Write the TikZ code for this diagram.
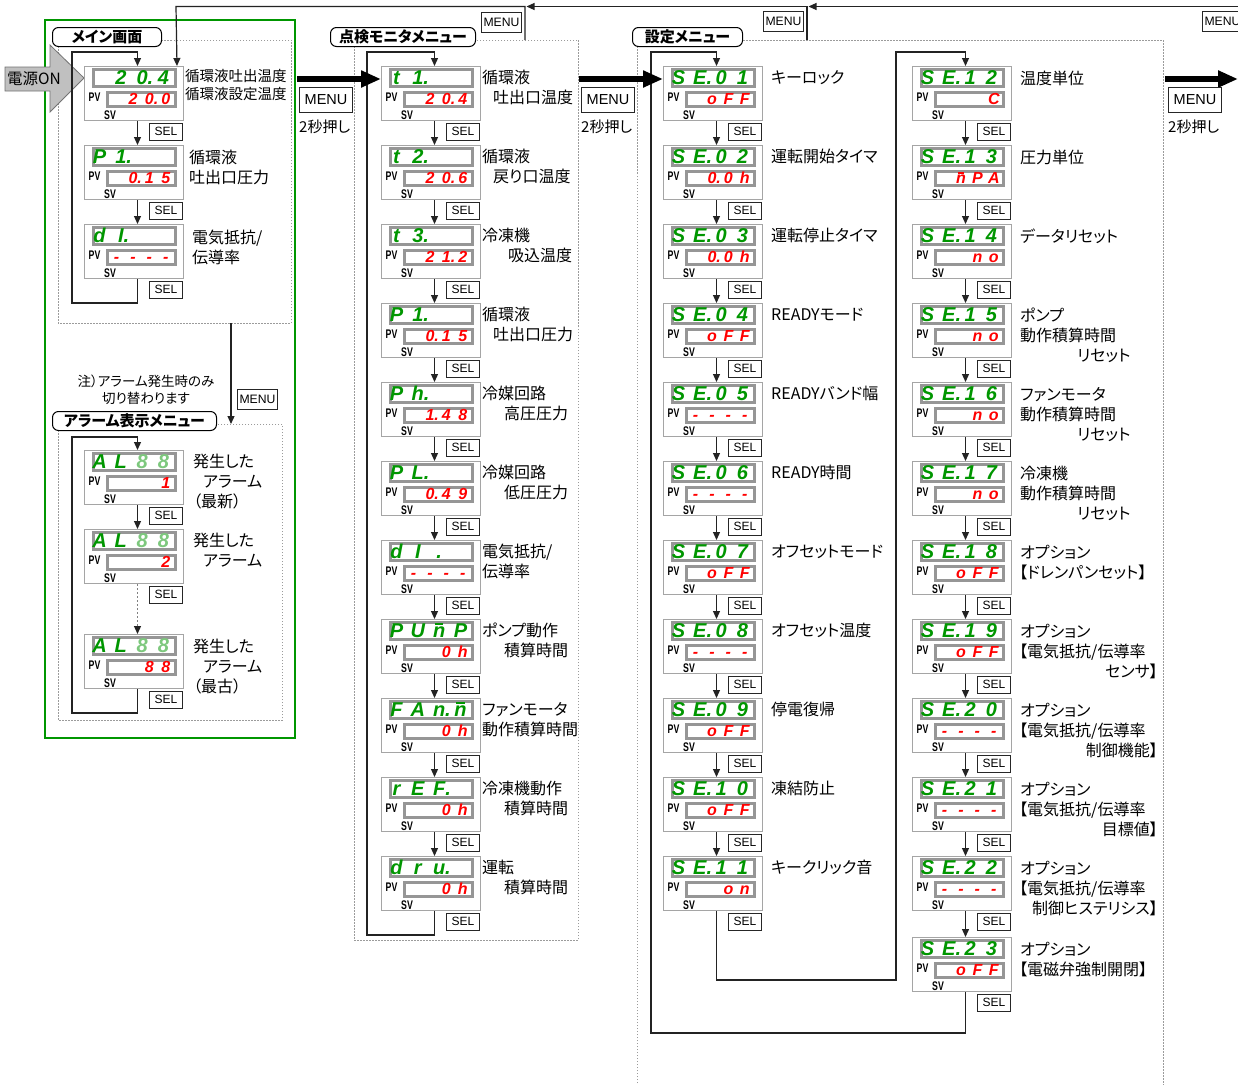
\documentclass[tikz,border=0pt]{standalone}
\usepackage{fontspec}
\usepackage{graphicx}
\setmainfont{Noto Sans CJK JP}[RawFeature=+palt]
\newfontfamily\arialf{Liberation Sans}
\newfontfamily\segf{Liberation Sans}
\newfontfamily\pvf{Liberation Sans}[FakeStretch=0.7]
\usetikzlibrary{arrows.meta}
\definecolor{sgreen}{RGB}{0,150,0}
\definecolor{sred}{RGB}{255,0,0}
\definecolor{hollowg}{RGB}{125,200,125}
\definecolor{fgray}{RGB}{150,150,150}
\definecolor{ogray}{RGB}{165,165,165}
\definecolor{dgray}{RGB}{155,155,155}
\definecolor{lnc}{RGB}{35,35,35}
\definecolor{pgray}{RGB}{192,192,192}
\definecolor{frgreen}{RGB}{0,150,0}

\newcommand\segU[4]{\makebox[21.3pt]{#1}\makebox[21.3pt]{#2}\makebox[21.3pt]{#3}\makebox[21.3pt]{#4}}
\newcommand\segL[4]{\makebox[16.4pt]{#1}\makebox[16.4pt]{#2}\makebox[16.4pt]{#3}\makebox[16.4pt]{#4}}
\newcommand\dpdot{\rlap{.}}
\newcommand\nbar{\ooalign{n\cr\hidewidth\raisebox{0.62em}{\rule{0.42em}{0.09em}}\hidewidth\cr}}
\newcommand\hseg[1]{\textcolor{hollowg}{#1}}

\tikzset{
 dispbox/.style={draw=ogray, line width=1pt, fill=white, minimum width=99pt, minimum height=54pt, inner sep=0pt},
 ufield/.style={draw=fgray, line width=2.6pt, minimum width=82.5pt, minimum height=17pt, inner sep=0pt},
 lfield/.style={draw=fgray, line width=2.6pt, minimum width=68.5pt, minimum height=14.5pt, inner sep=0pt},
 useg/.style={inner sep=0pt, text=sgreen, font=\segf\bfseries\itshape\fontsize{20}{20}\selectfont, text height=14.3pt, text depth=0pt},
 lseg/.style={inner sep=0pt, text=sred, font=\segf\bfseries\itshape\fontsize{16}{16}\selectfont, text height=11.5pt, text depth=0pt},
 pvs/.style={inner sep=0pt, font=\pvf\bfseries\fontsize{12.5}{12.5}\selectfont},
 selbox/.style={draw=black!85, line width=0.9pt, fill=white, minimum width=33pt, minimum height=16.5pt, inner sep=0pt, font=\arialf\fontsize{12}{12}\selectfont},
 bigmenu/.style={draw=black!85, line width=1.1pt, fill=white, minimum width=53pt, minimum height=25pt, inner sep=0pt, font=\arialf\fontsize{14.5}{14.5}\selectfont},
 smallmenu/.style={draw=black!85, line width=1pt, fill=white, minimum width=40pt, minimum height=20pt, inner sep=0pt, font=\arialf\fontsize{12.2}{12.2}\selectfont},
 lbl/.style={anchor=base west, inner sep=0pt, font=\fontsize{16}{20}\selectfont},
 lblsmall/.style={anchor=base west, inner sep=0pt, font=\fontsize{14.5}{18}\selectfont},
 conn/.style={draw=lnc, line width=1.2pt},
 arr/.style={conn, -{Triangle[length=8pt,width=7pt]}},
 bigarr/.style={draw=black, line width=6pt, -{Triangle[length=20pt,width=16pt]}},
 dotbox/.style={draw=dgray, line width=0.8pt, dash pattern=on 1.5pt off 1.5pt},
 titlebox/.style={draw=black, line width=1pt, rounded corners=6pt, fill=white, inner sep=0pt, minimum height=19pt, font=\bfseries\fontsize{15}{15}\selectfont, anchor=north west},
}

\newcounter{lbc}
\newcommand\lb[3]{\stepcounter{lbc}\node[lbl] (lb\arabic{lbc}) at (#1,#2+6) {#3};}
\newcommand\lbs[3]{\stepcounter{lbc}\node[lblsmall] (lb\arabic{lbc}) at (#1,#2+5.5) {#3};}
\newcommand\lbr[3]{\stepcounter{lbc}\node[lbl, anchor=base east] (lb\arabic{lbc}) at (#1,#2+6) {#3};}

\newcommand\disp[5]{%
 \node[dispbox, anchor=north west] (#1) at (#2,#3) {};
 \node[ufield] (#1u) at (#2+50.5,#3+12.25) {};
 \node[lfield] (#1l) at (#2+57.5,#3+33.5) {};
 \node[useg, anchor=east] (#1ut) at (#2+90.3,#3+11.3) {#4};
 \node[lseg, anchor=east] (#1lt) at (#2+90.2,#3+32.8) {#5};
 \node[pvs] (#1pv) at (#2+10.5,#3+31) {PV};
 \node[pvs] (#1sv) at (#2+26,#3+49) {SV};
 \node[selbox, anchor=north east] (#1sel) at (#2+99,#3+57) {SEL};
}

\begin{document}
\begin{tikzpicture}[x=1pt,y=-1pt]
\useasboundingbox[fill=white] (0,0) rectangle (1238,1084);

% frames
\draw[dotbox] (58,40) rectangle (291,323);
\draw[dotbox] (58,424) rectangle (282,720);
\draw[dotbox] (354,40) rectangle (578,940);
\draw[dotbox] (637,1095) -- (637,40) -- (1163,40) -- (1163,1095);
\draw[draw=frgreen, line width=2pt] (45,20) rectangle (295,738);

% titles
\node[titlebox, minimum width=109pt] (tmain) at (52,27) {メイン画面};
\node[titlebox, minimum width=145pt] (tchk) at (330,27) {点検モニタメニュー};
\node[titlebox, minimum width=110pt] (tset) at (632,27) {設定メニュー};
\node[titlebox, minimum width=164pt] (talm) at (52,411) {アラーム表示メニュー};

% power on arrow
\draw[fill=pgray, draw=black!55, line width=0.8pt] (5,67) -- (50,67) -- (50,45) -- (84,78) -- (50,112) -- (50,91) -- (5,91) -- cycle;
\node[anchor=west, inner sep=0pt, font=\fontsize{15.5}{15.5}\selectfont] (pwr) at (7,79) {電源ON};

% main screen displays
\disp{m1}{84}{66}{\segU{}{2}{0\dpdot}{4}}{\segL{}{2}{0\dpdot}{0}}
\disp{m2}{84}{145}{\segU{P}{1\dpdot}{}{}}{\segL{}{0\dpdot}{1}{5}}
\disp{m3}{84}{224}{\segU{d}{I\dpdot}{}{}}{\segL{-}{-}{-}{-}}

% alarm displays
\disp{a1}{84}{450}{\segU{A}{L}{\hseg{8}}{\hseg{8}}}{\segL{}{}{}{1}}
\disp{a2}{84}{529}{\segU{A}{L}{\hseg{8}}{\hseg{8}}}{\segL{}{}{}{2}}
\disp{a3}{84}{634}{\segU{A}{L}{\hseg{8}}{\hseg{8}}}{\segL{}{}{8}{8}}

% check monitor displays
\disp{p1}{381}{66}{\segU{t}{1\dpdot}{}{}}{\segL{}{2}{0\dpdot}{4}}
\disp{p2}{381}{145}{\segU{t}{2\dpdot}{}{}}{\segL{}{2}{0\dpdot}{6}}
\disp{p3}{381}{224}{\segU{t}{3\dpdot}{}{}}{\segL{}{2}{1\dpdot}{2}}
\disp{p4}{381}{303}{\segU{P}{1\dpdot}{}{}}{\segL{}{0\dpdot}{1}{5}}
\disp{p5}{381}{382}{\segU{P}{h\dpdot}{}{}}{\segL{}{1\dpdot}{4}{8}}
\disp{p6}{381}{461}{\segU{P}{L\dpdot}{}{}}{\segL{}{0\dpdot}{4}{9}}
\disp{p7}{381}{540}{\segU{d}{I}{.}{}}{\segL{-}{-}{-}{-}}
\disp{p8}{381}{619}{\segU{P}{U}{\nbar}{P}}{\segL{}{}{0}{h}}
\disp{p9}{381}{698}{\segU{F}{A}{n\dpdot}{\nbar}}{\segL{}{}{0}{h}}
\disp{p10}{381}{777}{\segU{r}{E}{F\dpdot}{}}{\segL{}{}{0}{h}}
\disp{p11}{381}{856}{\segU{d}{r}{u\dpdot}{}}{\segL{}{}{0}{h}}

% settings column 1
\disp{s1}{663}{66}{\segU{S}{E\dpdot}{0}{1}}{\segL{}{o}{F}{F}}
\disp{s2}{663}{145}{\segU{S}{E\dpdot}{0}{2}}{\segL{}{0\dpdot}{0}{h}}
\disp{s3}{663}{224}{\segU{S}{E\dpdot}{0}{3}}{\segL{}{0\dpdot}{0}{h}}
\disp{s4}{663}{303}{\segU{S}{E\dpdot}{0}{4}}{\segL{}{o}{F}{F}}
\disp{s5}{663}{382}{\segU{S}{E\dpdot}{0}{5}}{\segL{-}{-}{-}{-}}
\disp{s6}{663}{461}{\segU{S}{E\dpdot}{0}{6}}{\segL{-}{-}{-}{-}}
\disp{s7}{663}{540}{\segU{S}{E\dpdot}{0}{7}}{\segL{}{o}{F}{F}}
\disp{s8}{663}{619}{\segU{S}{E\dpdot}{0}{8}}{\segL{-}{-}{-}{-}}
\disp{s9}{663}{698}{\segU{S}{E\dpdot}{0}{9}}{\segL{}{o}{F}{F}}
\disp{s10}{663}{777}{\segU{S}{E\dpdot}{1}{0}}{\segL{}{o}{F}{F}}
\disp{s11}{663}{856}{\segU{S}{E\dpdot}{1}{1}}{\segL{}{}{o}{n}}

% settings column 2
\disp{s12}{912}{66}{\segU{S}{E\dpdot}{1}{2}}{\segL{}{}{}{C}}
\disp{s13}{912}{145}{\segU{S}{E\dpdot}{1}{3}}{\segL{}{\nbar}{P}{A}}
\disp{s14}{912}{224}{\segU{S}{E\dpdot}{1}{4}}{\segL{}{}{n}{o}}
\disp{s15}{912}{303}{\segU{S}{E\dpdot}{1}{5}}{\segL{}{}{n}{o}}
\disp{s16}{912}{382}{\segU{S}{E\dpdot}{1}{6}}{\segL{}{}{n}{o}}
\disp{s17}{912}{461}{\segU{S}{E\dpdot}{1}{7}}{\segL{}{}{n}{o}}
\disp{s18}{912}{540}{\segU{S}{E\dpdot}{1}{8}}{\segL{}{o}{F}{F}}
\disp{s19}{912}{619}{\segU{S}{E\dpdot}{1}{9}}{\segL{}{o}{F}{F}}
\disp{s20}{912}{698}{\segU{S}{E\dpdot}{2}{0}}{\segL{-}{-}{-}{-}}
\disp{s21}{912}{777}{\segU{S}{E\dpdot}{2}{1}}{\segL{-}{-}{-}{-}}
\disp{s22}{912}{856}{\segU{S}{E\dpdot}{2}{2}}{\segL{-}{-}{-}{-}}
\disp{s23}{912}{937}{\segU{S}{E\dpdot}{2}{3}}{\segL{}{o}{F}{F}}

% arrows between displays
\draw[arr] ([xshift=3.5pt]m1.south) -- ([xshift=3.5pt]m2.north);
\draw[arr] ([xshift=3.5pt]m2.south) -- ([xshift=3.5pt]m3.north);
\draw[arr] ([xshift=3.5pt]a1.south) -- ([xshift=3.5pt]a2.north);
\draw[conn, draw=gray, dash pattern=on 2pt off 2pt, -{Triangle[length=8pt,width=7pt,color=lnc]}] ([xshift=3.5pt]a2.south) -- ([xshift=3.5pt]a3.north);
\foreach \i [evaluate=\i as \j using int(\i+1)] in {1,...,10} {
  \draw[arr] ([xshift=3.5pt]p\i.south) -- ([xshift=3.5pt]p\j.north);
  \draw[arr] ([xshift=3.5pt]s\i.south) -- ([xshift=3.5pt]s\j.north);
}
\foreach \i [evaluate=\i as \j using int(\i+1)] in {12,...,22} {
  \draw[arr] ([xshift=3.5pt]s\i.south) -- ([xshift=3.5pt]s\j.north);
}

% loops
\coordinate (mlA) at (72,303); \coordinate (mlB) at (72,52);
\draw[arr] ([xshift=3.5pt]m3.south) |- (mlA) -- (mlB) -| ([xshift=3.5pt]m1.north);
\coordinate (alA) at (72,713); \coordinate (alB) at (72,437);
\draw[arr] ([xshift=3.5pt]a3.south) |- (alA) -- (alB) -| ([xshift=3.5pt]a1.north);
\coordinate (plA) at (367,935); \coordinate (plB) at (367,52);
\draw[arr] ([xshift=3.5pt]p11.south) |- (plA) -- (plB) -| ([xshift=3.5pt]p1.north);
\coordinate (c1A) at (896,980); \coordinate (c1B) at (896,52);
\draw[arr] ([xshift=3.5pt]s11.south) |- (c1A) -- (c1B) -| ([xshift=3.5pt]s12.north);
\coordinate (c2A) at (651,1033); \coordinate (c2B) at (651,52);
\draw[arr] ([xshift=3.5pt]s23.south) |- (c2A) -- (c2B) -| ([xshift=3.5pt]s1.north);

% return lines at top
\coordinate (pt1) at (525,40); \coordinate (pt2) at (525,6.5); \coordinate (topL) at (176,6.5);
\draw[arr] (pt1) -- (pt2) -- (topL) -- ([xshift=-7pt]m1.north east);
\coordinate (st1) at (807,40); \coordinate (st2) at (807,6.5); \coordinate (pj) at (526.5,6.5);
\draw[arr] (st1) -- (st2) -- (pj);
\coordinate (rt) at (1250,6.5); \coordinate (sj) at (808.5,6.5);
\draw[arr] (rt) -- (sj);

% main -> alarm
\coordinate (mbot) at (231,323); \coordinate (atop) at (231,424);
\draw[arr] (mbot) -- (atop);
\node[smallmenu, anchor=north west] (sma) at (237,389) {MENU};
\node[align=center, inner sep=0pt, font=\fontsize{13.5}{16.5}\selectfont] (note) at (146,390) {注）アラーム発生時のみ\\切り替わります};

% menu boxes top
\node[smallmenu, anchor=north west] (sm1) at (481,12) {MENU};
\node[smallmenu, anchor=north west] (sm2) at (763,11) {MENU};
\node[smallmenu, anchor=north west] (sm3) at (1202,11) {MENU};

% big arrows
\coordinate (ba1) at (297,79);
\draw[bigarr] (ba1) -- (p1.west |- ba1);
\coordinate (ba2) at (579,79);
\draw[bigarr] (ba2) -- (s1.west |- ba2);
\coordinate (ba3) at (1165,79); \coordinate (ba3e) at (1238,79);
\draw[bigarr] (ba3) -- (ba3e);
\node[bigmenu, anchor=north west] (mb1) at (299,87) {MENU};
\node[bigmenu, anchor=north west] (mb2) at (581,87) {MENU};
\node[bigmenu, anchor=north west] (mb3) at (1168,87) {MENU};
\node[lbl, font=\fontsize{15}{15}\selectfont] (ps1) at (299,132.5) {2秒押し};
\node[lbl, font=\fontsize{15}{15}\selectfont] (ps2) at (581,132.5) {2秒押し};
\node[lbl, font=\fontsize{15}{15}\selectfont] (ps3) at (1168,132.5) {2秒押し};

% labels main
\lbs{185}{76}{循環液吐出温度}
\lbs{185}{94}{循環液設定温度}
\lb{189}{157.5}{循環液}
\lb{189}{177.5}{吐出口圧力}
\lb{192}{237.5}{電気抵抗/}
\lb{192}{257.5}{伝導率}
% labels alarm
\lb{193}{461}{発生した}
\lb{203}{481}{アラーム}
\lb{193}{501}{（最新）}
\lb{193}{540}{発生した}
\lb{203}{560}{アラーム}
\lb{193}{646}{発生した}
\lb{203}{666}{アラーム}
\lb{193}{686}{（最古）}
% labels check monitor
\lb{482}{77}{循環液}       \lb{493}{97.5}{吐出口温度}
\lb{482}{156}{循環液}      \lb{493}{176.5}{戻り口温度}
\lb{482}{235}{冷凍機}      \lb{508}{255.5}{吸込温度}
\lb{482}{314}{循環液}      \lb{493}{334.5}{吐出口圧力}
\lb{482}{393}{冷媒回路}    \lb{504}{413.5}{高圧圧力}
\lb{482}{472}{冷媒回路}    \lb{504}{492.5}{低圧圧力}
\lb{482}{551}{電気抵抗/}   \lb{482}{571.5}{伝導率}
\lb{482}{630}{ポンプ動作}  \lb{504}{650.5}{積算時間}
\lb{482}{709}{ファンモータ} \lb{482}{729.5}{動作積算時間}
\lb{482}{788}{冷凍機動作}  \lb{504}{808.5}{積算時間}
\lb{482}{867}{運転}        \lb{504}{887.5}{積算時間}
% labels settings col 1
\lb{771}{77.5}{キーロック}
\lb{771}{156.5}{運転開始タイマ}
\lb{771}{235.5}{運転停止タイマ}
\lb{771}{314.5}{READYモード}
\lb{771}{393.5}{READYバンド幅}
\lb{771}{472.5}{READY時間}
\lb{771}{551.5}{オフセットモード}
\lb{771}{630.5}{オフセット温度}
\lb{771}{709.5}{停電復帰}
\lb{771}{788.5}{凍結防止}
\lb{771}{867.5}{キークリック音}
% labels settings col 2
\lb{1020}{78}{温度単位}
\lb{1020}{157}{圧力単位}
\lb{1020}{236}{データリセット}
\lb{1020}{315}{ポンプ}       \lb{1020}{335}{動作積算時間} \lb{1077}{355}{リセット}
\lb{1020}{394}{ファンモータ} \lb{1020}{414}{動作積算時間} \lb{1077}{434}{リセット}
\lb{1020}{473}{冷凍機}       \lb{1020}{493}{動作積算時間} \lb{1077}{513}{リセット}
\lb{1020}{552}{オプション}   \lb{1019}{572}{【ドレンパンセット】}
\lb{1020}{631}{オプション}   \lb{1019}{651}{【電気抵抗/伝導率} \lbr{1158}{671}{センサ】}
\lb{1020}{710}{オプション}   \lb{1019}{730}{【電気抵抗/伝導率} \lbr{1158}{750}{制御機能】}
\lb{1020}{789}{オプション}   \lb{1019}{809}{【電気抵抗/伝導率} \lbr{1158}{829}{目標値】}
\lb{1020}{868}{オプション}   \lb{1019}{888}{【電気抵抗/伝導率} \lbr{1158}{908}{制御ヒステリシス】}
\lb{1020}{949}{オプション}   \lb{1019}{969}{【電磁弁強制開閉】}
\end{tikzpicture}
\end{document}
